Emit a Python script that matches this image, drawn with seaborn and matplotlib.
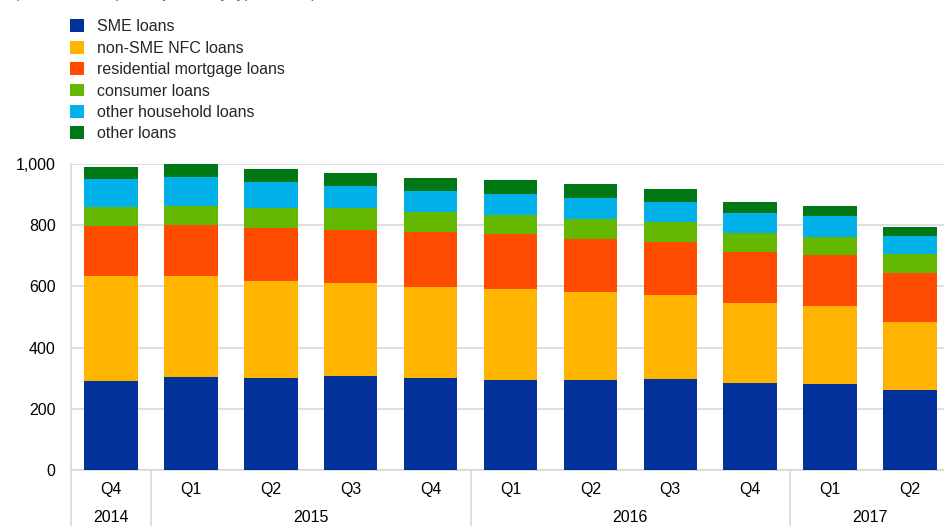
import matplotlib
matplotlib.use("Agg")
import matplotlib.pyplot as plt
import matplotlib.transforms as mtransforms
from matplotlib.patches import Patch
import seaborn as sns
import pandas as pd
import numpy as np

quarters = ["Q4", "Q1", "Q2", "Q3", "Q4", "Q1", "Q2", "Q3", "Q4", "Q1", "Q2"]
years = ["2014", "2015", "2015", "2015", "2015", "2016", "2016", "2016", "2016", "2017", "2017"]
periods = [f"{q} {y}" for q, y in zip(quarters, years)]

series_names = ["SME loans", "non-SME NFC loans", "residential mortgage loans",
                "consumer loans", "other household loans", "other loans"]
sme = [290, 305, 300, 306, 300, 295, 295, 297, 285, 281, 261]
non_sme = [343, 329, 319, 304, 298, 295, 286, 275, 260, 254, 222]
residential = [165, 167, 172, 175, 179, 180, 175, 172, 166, 168, 162]
consumer = [60, 61, 64, 70, 65, 64, 65, 65, 64, 59, 61]
other_household = [94, 96, 86, 73, 70, 69, 68, 68, 65, 68, 59]
other = [38, 42, 42, 43, 42, 45, 45, 41, 35, 33, 30]
colors = ["#003299", "#FFB400", "#FF4B00", "#65B800", "#00B1EA", "#007816"]

series_values = [sme, non_sme, residential, consumer, other_household, other]

sns.set_theme(style="white")
plt.rcParams["font.family"] = ["Liberation Sans", "DejaVu Sans"]

fig = plt.figure(figsize=(9.44, 5.26), dpi=100)
W, H = 944, 526
ax = fig.add_axes([71 / W, (H - 470) / H, (950 - 71) / W, (470 - 164) / H])

# cumulative stacks, drawn from the top layer down
cum = np.zeros(len(periods))
cums = []
for vals in series_values:
    cum = cum + np.array(vals)
    cums.append(cum.copy())
for name, c, col in reversed(list(zip(series_names, cums, colors))):
    d = pd.DataFrame({"period": periods, "value": c})
    sns.barplot(data=d, x="period", y="value", color=col, ax=ax,
                width=0.67, saturation=1, edgecolor="none", linewidth=0,
                order=periods, zorder=3)

ax.set_ylim(0, 1000)
ax.set_xlim(-0.5, len(periods) - 0.5)
ax.set_yticks([0, 200, 400, 600, 800, 1000])
ax.set_yticklabels(["0", "200", "400", "600", "800", "1,000"], fontsize=11.5)
ax.yaxis.grid(True, color="#d9d9d9", linewidth=1.2, zorder=0)
ax.set_axisbelow(True)
ax.set_xlabel("")
ax.set_ylabel("")
ax.set_xticks(range(len(periods)))
ax.set_xticklabels(quarters, fontsize=11.5)
ax.tick_params(axis="x", length=0, pad=8.5, colors="#000000")
ax.tick_params(axis="y", length=0, pad=11, colors="#000000")
for s in ["top", "right"]:
    ax.spines[s].set_visible(False)
for s in ["left", "bottom"]:
    ax.spines[s].set_color("#d9d9d9")
    ax.spines[s].set_linewidth(1.2)

trans = mtransforms.blended_transform_factory(ax.transData, ax.transAxes)
bottom_frac = -(526 - 470) / (470 - 164)
for xsep in [-0.5, 0.5, 4.5, 8.5]:
    ax.plot([xsep, xsep], [0, bottom_frac - 0.05], transform=trans,
            color="#d9d9d9", linewidth=1.2, clip_on=False)
year_pos = {"2014": 0, "2015": 2.5, "2016": 6.5, "2017": 9.5}
for yr, xp in year_pos.items():
    ax.text(xp, -(518 - 470) / (470 - 164), yr, transform=trans,
            ha="center", va="center", fontsize=11.5, color="#000000")

handles = [Patch(facecolor=c, edgecolor="none") for c in colors]
fig.legend(handles, series_names, loc="upper left",
           bbox_to_anchor=(64 / W, 1 - 13 / H), frameon=False,
           fontsize=11.5, handlelength=0.85, handleheight=0.85,
           handletextpad=0.8, labelspacing=0.40, borderaxespad=0)

fig.text(14 / W, 1 + 2 / H, "(EUR billions; quarterly data; by type of loan)",
         color="#3366cc", fontsize=11, ha="left", va="baseline")

fig.savefig("out.png", dpi=100)
